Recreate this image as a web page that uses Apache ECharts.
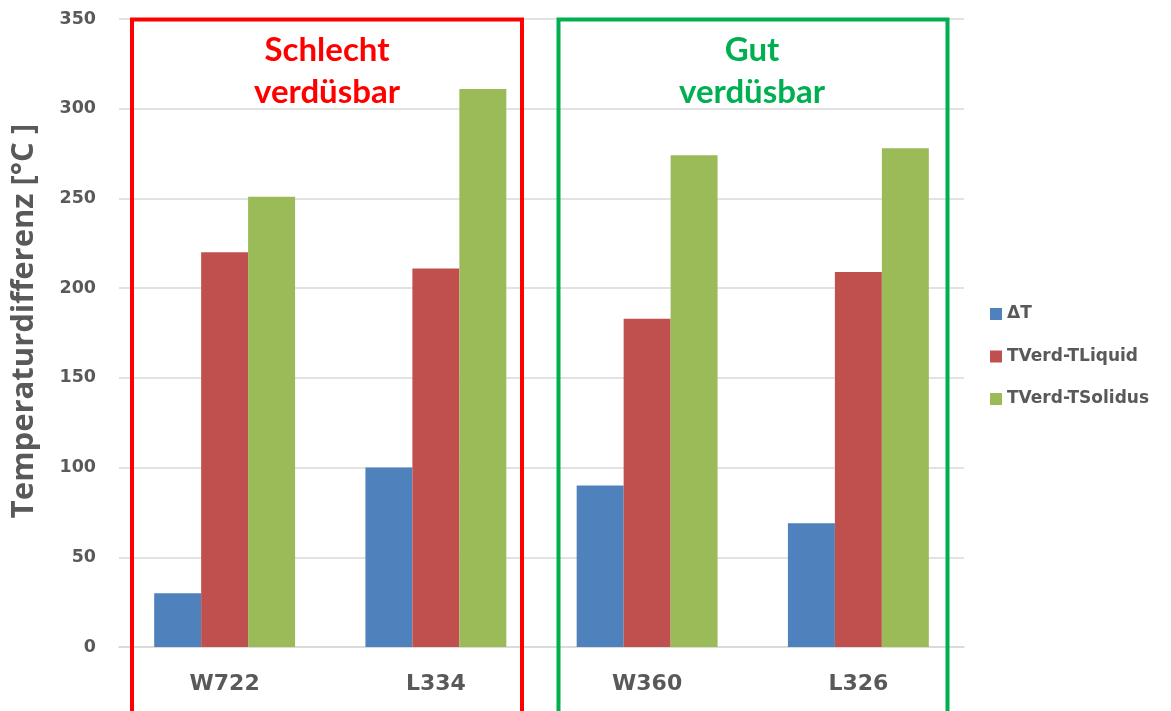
<!DOCTYPE html>
<html>
<head>
<meta charset="utf-8">
<script src="https://cdn.jsdelivr.net/npm/echarts@6/dist/echarts.min.js"></script>
<style>
  html, body { margin: 0; padding: 0; background: #ffffff; }
  #chart { width: 1171px; height: 711px; }
</style>
</head>
<body>
<div id="chart"></div>
<script>
// Alloy designations on the x axis
const categories = ['W722', 'L334', 'W360', 'L326'];

// Temperature differences in °C
const deltaT = [30, 100, 90, 69];
const verdLiquid = [220, 211, 183, 209];
const verdSolidus = [251, 311, 274, 278];

const seriesNames = ['\u0394T', 'TVerd-TLiquid', 'TVerd-TSolidus'];
const seriesColors = ['#4f81bd', '#c0504d', '#9bbb59'];

const yTicks = { min: 0, max: 350, interval: 50 };

const textGray = '#595959';
const gridGray = '#d9d9d9';
const chartFont = '"DejaVu Sans", sans-serif';
const nameFont = '"Open Sans", sans-serif';
const noteFont = 'Lato, "Open Sans", sans-serif';

const chart = echarts.init(document.getElementById('chart'));

const seriesData = [deltaT, verdLiquid, verdSolidus];

chart.setOption({
  animation: false,
  backgroundColor: '#ffffff',
  grid: {
    left: 119, right: 207, top: 19, bottom: 64,
    containLabel: false,
    outerBoundsMode: 'none'
  },
  legend: {
    orient: 'vertical',
    left: 985,
    top: 300,
    itemWidth: 12,
    itemHeight: 12,
    itemGap: 24.5,
    itemTextGap: 6,
    icon: 'rect',
    textStyle: { color: textGray, fontSize: 17, lineHeight: 18, fontWeight: 'bold', fontFamily: chartFont },
    data: seriesNames
  },
  xAxis: {
    type: 'category',
    data: categories,
    axisLine: { lineStyle: { color: gridGray, width: 1.5 } },
    axisTick: { show: false },
    axisLabel: { color: textGray, fontSize: 22, fontWeight: 'bold', fontFamily: chartFont, margin: 26 }
  },
  yAxis: {
    type: 'value',
    min: yTicks.min,
    max: yTicks.max,
    interval: yTicks.interval,
    name: 'Temperaturdifferenz [°C ]',
    nameLocation: 'middle',
    nameGap: 79,
    nameTextStyle: {
      color: textGray, fontSize: 31, fontWeight: 'bold', fontFamily: nameFont,
      padding: [0, 0, 0, 24]
    },
    axisLine: { show: false },
    axisTick: { show: false },
    splitLine: { lineStyle: { color: gridGray, width: 1.5 } },
    axisLabel: { color: textGray, fontSize: 17.5, fontWeight: 'bold', fontFamily: chartFont, margin: 23 }
  },
  series: seriesNames.map((name, i) => ({
    name: name,
    type: 'bar',
    data: seriesData[i],
    barGap: '0%',
    barCategoryGap: '33.3%',
    itemStyle: { color: seriesColors[i] }
  })),
  graphic: [
    {
      type: 'rect',
      shape: { x: 132, y: 19.5, width: 390, height: 700 },
      style: { fill: 'none', stroke: '#ff0000', lineWidth: 4 },
      z: 100
    },
    {
      type: 'rect',
      shape: { x: 558.5, y: 19.5, width: 389, height: 700 },
      style: { fill: 'none', stroke: '#00b050', lineWidth: 4 },
      z: 100
    },
    {
      type: 'text',
      x: 327,
      y: 29,
      style: {
        text: 'Schlecht\nverdüsbar',
        fill: '#ff0000',
        font: 'bold 33px ' + noteFont,
        align: 'center',
        verticalAlign: 'top',
        lineHeight: 42
      },
      z: 100
    },
    {
      type: 'text',
      x: 752,
      y: 29,
      style: {
        text: 'Gut\nverdüsbar',
        fill: '#00b050',
        font: 'bold 33px ' + noteFont,
        align: 'center',
        verticalAlign: 'top',
        lineHeight: 42
      },
      z: 100
    }
  ]
});
</script>
</body>
</html>
